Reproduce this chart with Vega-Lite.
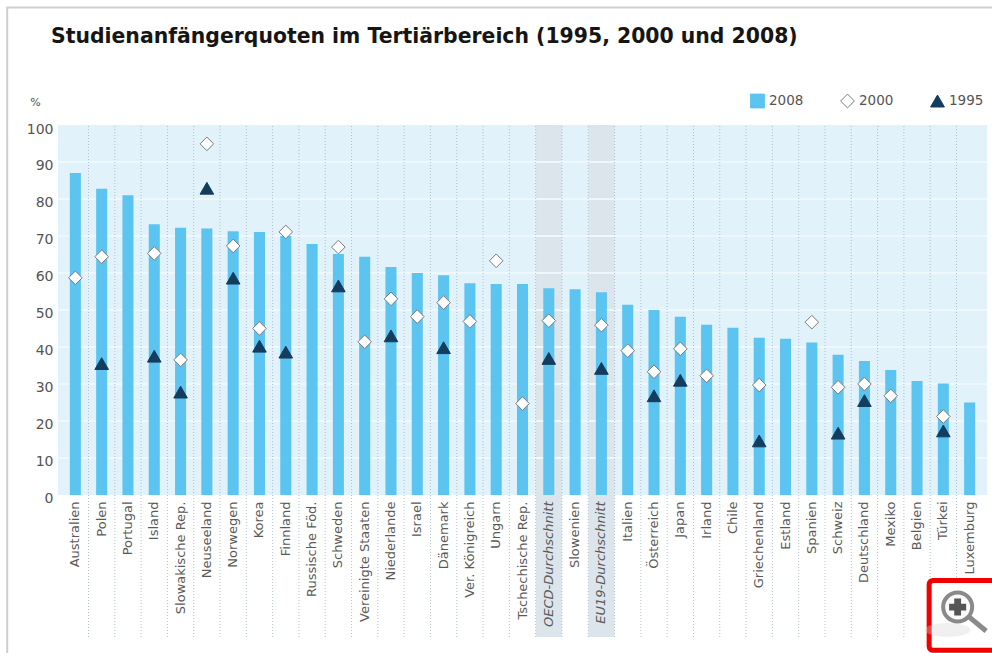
{"$schema":"https://vega.github.io/schema/vega-lite/v6.json","width":929,"height":512,"autosize":{"type":"none"},"padding":{"left":58,"top":125,"right":5,"bottom":16},"background":"white","title":{"text":"Studienanfängerquoten im Tertiärbereich (1995, 2000 und 2008)","anchor":"start","frame":"group","dx":-7,"offset":-41,"font":"DejaVu Sans","fontSize":20.4,"fontWeight":"bold","color":"#151515"},"datasets":{"rows":[{"land":"Australien","jahr":"2008","wert":87},{"land":"Polen","jahr":"2008","wert":82.8},{"land":"Portugal","jahr":"2008","wert":81},{"land":"Island","jahr":"2008","wert":73.2},{"land":"Slowakische Rep.","jahr":"2008","wert":72.2},{"land":"Neuseeland","jahr":"2008","wert":72},{"land":"Norwegen","jahr":"2008","wert":71.3},{"land":"Korea","jahr":"2008","wert":71.1},{"land":"Finnland","jahr":"2008","wert":70},{"land":"Russische Föd.","jahr":"2008","wert":67.8},{"land":"Schweden","jahr":"2008","wert":65.1},{"land":"Vereinigte Staaten","jahr":"2008","wert":64.4},{"land":"Niederlande","jahr":"2008","wert":61.6},{"land":"Israel","jahr":"2008","wert":60},{"land":"Dänemark","jahr":"2008","wert":59.4},{"land":"Ver. Königreich","jahr":"2008","wert":57.2},{"land":"Ungarn","jahr":"2008","wert":57},{"land":"Tschechische Rep.","jahr":"2008","wert":57},{"land":"OECD-Durchschnitt","jahr":"2008","wert":55.9},{"land":"Slowenien","jahr":"2008","wert":55.6},{"land":"EU19-Durchschnitt","jahr":"2008","wert":54.8},{"land":"Italien","jahr":"2008","wert":51.4},{"land":"Österreich","jahr":"2008","wert":50},{"land":"Japan","jahr":"2008","wert":48.2},{"land":"Irland","jahr":"2008","wert":46},{"land":"Chile","jahr":"2008","wert":45.2},{"land":"Griechenland","jahr":"2008","wert":42.5},{"land":"Estland","jahr":"2008","wert":42.2},{"land":"Spanien","jahr":"2008","wert":41.2},{"land":"Schweiz","jahr":"2008","wert":37.9},{"land":"Deutschland","jahr":"2008","wert":36.2},{"land":"Mexiko","jahr":"2008","wert":33.8},{"land":"Belgien","jahr":"2008","wert":30.8},{"land":"Türkei","jahr":"2008","wert":30.1},{"land":"Luxemburg","jahr":"2008","wert":25},{"land":"Australien","jahr":"2000","wert":58.7},{"land":"Polen","jahr":"2000","wert":64.4},{"land":"Island","jahr":"2000","wert":65.3},{"land":"Slowakische Rep.","jahr":"2000","wert":36.5},{"land":"Neuseeland","jahr":"2000","wert":94.9},{"land":"Norwegen","jahr":"2000","wert":67.3},{"land":"Korea","jahr":"2000","wert":45},{"land":"Finnland","jahr":"2000","wert":71.1},{"land":"Schweden","jahr":"2000","wert":67},{"land":"Vereinigte Staaten","jahr":"2000","wert":41.4},{"land":"Niederlande","jahr":"2000","wert":53},{"land":"Israel","jahr":"2000","wert":48.2},{"land":"Dänemark","jahr":"2000","wert":52},{"land":"Ver. Königreich","jahr":"2000","wert":46.9},{"land":"Ungarn","jahr":"2000","wert":63.3},{"land":"Tschechische Rep.","jahr":"2000","wert":24.7},{"land":"OECD-Durchschnitt","jahr":"2000","wert":47.1},{"land":"EU19-Durchschnitt","jahr":"2000","wert":45.9},{"land":"Italien","jahr":"2000","wert":39},{"land":"Österreich","jahr":"2000","wert":33.3},{"land":"Japan","jahr":"2000","wert":39.5},{"land":"Irland","jahr":"2000","wert":32.2},{"land":"Griechenland","jahr":"2000","wert":29.7},{"land":"Spanien","jahr":"2000","wert":46.7},{"land":"Schweiz","jahr":"2000","wert":29.1},{"land":"Deutschland","jahr":"2000","wert":30},{"land":"Mexiko","jahr":"2000","wert":26.8},{"land":"Türkei","jahr":"2000","wert":21.2},{"land":"Polen","jahr":"1995","wert":35.5},{"land":"Island","jahr":"1995","wert":37.5},{"land":"Slowakische Rep.","jahr":"1995","wert":27.8},{"land":"Neuseeland","jahr":"1995","wert":82.9},{"land":"Norwegen","jahr":"1995","wert":58.6},{"land":"Korea","jahr":"1995","wert":40.2},{"land":"Finnland","jahr":"1995","wert":38.6},{"land":"Schweden","jahr":"1995","wert":56.5},{"land":"Niederlande","jahr":"1995","wert":43},{"land":"Dänemark","jahr":"1995","wert":39.8},{"land":"OECD-Durchschnitt","jahr":"1995","wert":36.9},{"land":"EU19-Durchschnitt","jahr":"1995","wert":34.2},{"land":"Österreich","jahr":"1995","wert":26.8},{"land":"Japan","jahr":"1995","wert":31},{"land":"Griechenland","jahr":"1995","wert":14.6},{"land":"Schweiz","jahr":"1995","wert":16.7},{"land":"Deutschland","jahr":"1995","wert":25.5},{"land":"Türkei","jahr":"1995","wert":17.3}]},"data":{"name":"rows"},"encoding":{"x":{"field":"land","type":"nominal","sort":null,"title":null,"scale":{"paddingInner":0.58,"paddingOuter":0.45,"domain":["Australien","Polen","Portugal","Island","Slowakische Rep.","Neuseeland","Norwegen","Korea","Finnland","Russische Föd.","Schweden","Vereinigte Staaten","Niederlande","Israel","Dänemark","Ver. Königreich","Ungarn","Tschechische Rep.","OECD-Durchschnitt","Slowenien","EU19-Durchschnitt","Italien","Österreich","Japan","Irland","Chile","Griechenland","Estland","Spanien","Schweiz","Deutschland","Mexiko","Belgien","Türkei","Luxemburg"]},"axis":{"offset":-142,"domain":false,"ticks":false,"grid":false,"labelAngle":270,"labelAlign":"right","labelBaseline":"middle","labelPadding":6,"labelFont":"DejaVu Sans","labelFontSize":13,"labelColor":"#5a5a5a","labelLimit":0,"labelOverlap":false,"zindex":1,"labelFontStyle":{"condition":{"test":"indexof(datum.value,'Durchschnitt')>=0","value":"italic"},"value":"normal"}}}},"layer":[{"data":{"values":[{"flaeche":"Hintergrund"}]},"mark":{"type":"rect","color":"#E1F2FA"},"encoding":{"x":{"value":0},"x2":{"value":{"expr":"width"}},"y":{"datum":0,"type":"quantitative"},"y2":{"datum":100}}},{"data":{"values":[{"rahmen":"Seite"}]},"mark":{"type":"bar","width":992,"xOffset":7,"fill":"transparent","stroke":"#CFCFCF","strokeWidth":2},"encoding":{"x":{"datum":"Ungarn"},"y":{"datum":-47,"type":"quantitative"},"y2":{"datum":131.75}}},{"transform":[{"filter":"datum.jahr=='2008' && indexof(datum.land,'Durchschnitt')>=0"}],"mark":{"type":"bar","width":26,"color":"#DCE5EB"},"encoding":{"y":{"datum":-38.4,"type":"quantitative"},"y2":{"datum":100}}},{"data":{"values":[{"g":10},{"g":20},{"g":30},{"g":40},{"g":50},{"g":60},{"g":70},{"g":80},{"g":90}]},"mark":{"type":"rule","color":"#EEF8FC","strokeWidth":2},"encoding":{"x":{"value":0},"x2":{"value":{"expr":"width"}},"y":{"field":"g","type":"quantitative"}}},{"transform":[{"filter":"datum.jahr=='2008' && datum.land!='Luxemburg'"}],"mark":{"type":"rule","color":"#A3B7C3","strokeWidth":1,"strokeDash":[1,2],"xOffset":13.15,"opacity":0.85},"encoding":{"y":{"datum":-38.4,"type":"quantitative"},"y2":{"datum":100}}},{"transform":[{"filter":"datum.jahr=='2008'"}],"mark":{"type":"bar","color":"#5BC4F0"},"encoding":{"y":{"field":"wert","type":"quantitative","scale":{"domain":[-38.4,100],"nice":false,"zero":false},"title":"%","axis":{"values":[0,10,20,30,40,50,60,70,80,90,100],"domain":false,"ticks":false,"grid":false,"labelFont":"DejaVu Sans","labelFontSize":14,"labelColor":"#555555","labelPadding":5,"labelOffset":4,"titleAngle":0,"titleFont":"DejaVu Sans","titleFontSize":11,"titleFontWeight":"normal","titleColor":"#555555","titleX":-23,"titleY":-18,"titleAlign":"center"}}}},{"transform":[{"filter":"datum.jahr!='2008'"}],"mark":{"type":"point","filled":true,"size":185,"opacity":1,"strokeWidth":1},"encoding":{"y":{"field":"wert","type":"quantitative"},"shape":{"field":"jahr","type":"nominal","title":null,"scale":{"domain":["2008","2000","1995"],"range":["square","diamond","triangle-up"]},"legend":{"orient":"none","legendX":692,"legendY":-32,"direction":"horizontal","columns":3,"columnPadding":36,"symbolSize":190,"labelFont":"DejaVu Sans","labelFontSize":13.5,"labelColor":"#555555","labelOffset":4,"symbolStrokeWidth":1,"clipHeight":16}},"fill":{"field":"jahr","type":"nominal","title":null,"scale":{"domain":["2008","2000","1995"],"range":["#5BC4F0","#FFFFFF","#143C5E"]}},"stroke":{"field":"jahr","type":"nominal","title":null,"scale":{"domain":["2008","2000","1995"],"range":["#5BC4F0","#7A7A7A","#143C5E"]}}}},{"data":{"values":[{"lupe":"Schaltfläche"}]},"mark":{"type":"bar","width":81,"fill":"white","stroke":"#F00000","strokeWidth":5,"cornerRadius":4},"encoding":{"x":{"datum":"Luxemburg"},"y":{"datum":-23.1,"type":"quantitative"},"y2":{"datum":-42}}},{"data":{"values":[{"lupe":"Schatten"}]},"mark":{"type":"point","filled":true,"shape":"M-1 0A1 0.3 0 1 0 1 0A1 0.3 0 1 0 -1 0Z","size":2100,"xOffset":-22,"color":"#D4D4D4","opacity":0.35},"encoding":{"x":{"datum":"Luxemburg"},"y":{"datum":-36.5,"type":"quantitative"}}},{"data":{"values":[{"lupe":"Griff"}]},"mark":{"type":"point","shape":"M0.72 0.62L1.9 1.6","size":900,"xOffset":-12,"filled":false,"stroke":"#8A8A8A","strokeWidth":5,"opacity":1},"encoding":{"x":{"datum":"Luxemburg"},"y":{"datum":-30.3,"type":"quantitative"}}},{"data":{"values":[{"lupe":"Glas"}]},"mark":{"type":"point","shape":"circle","size":840,"xOffset":-12,"fill":"#FAFAFA","stroke":"#8A8A8A","strokeWidth":4,"opacity":1},"encoding":{"x":{"datum":"Luxemburg"},"y":{"datum":-30.3,"type":"quantitative"}}},{"data":{"values":[{"lupe":"Plus"}]},"mark":{"type":"point","shape":"cross","size":290,"xOffset":-12,"filled":true,"color":"#555555","opacity":1},"encoding":{"x":{"datum":"Luxemburg"},"y":{"datum":-30.3,"type":"quantitative"}}}],"config":{"view":{"stroke":null}}}
